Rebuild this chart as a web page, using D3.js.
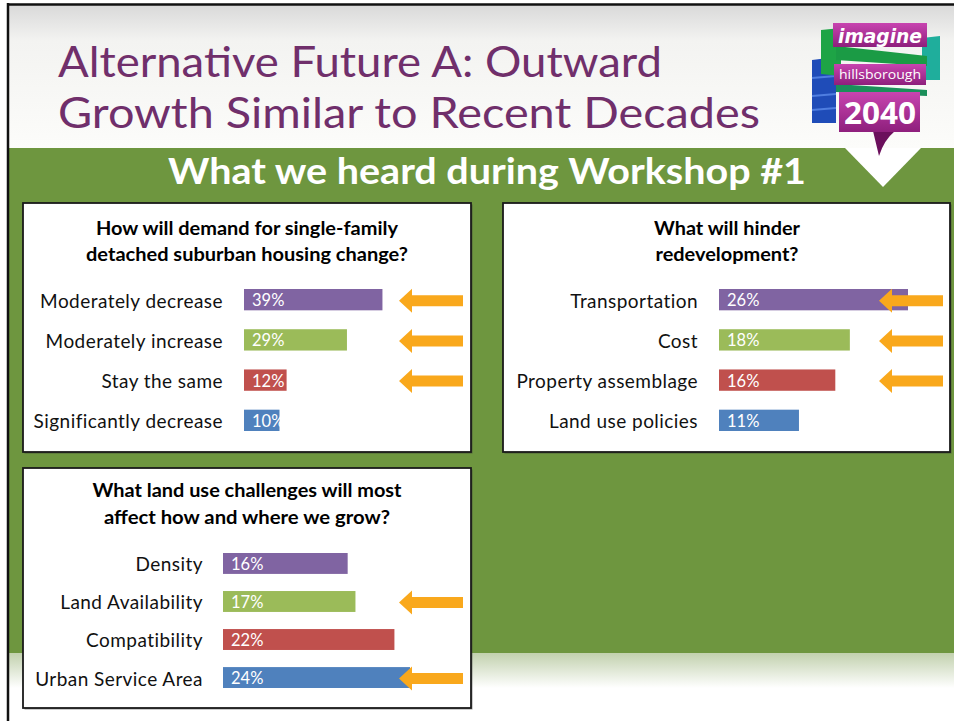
<!DOCTYPE html>
<html><head><meta charset="utf-8">
<script src="https://cdn.jsdelivr.net/npm/d3@7"></script>
<style>html,body{margin:0;padding:0;background:#fff;}svg{display:block;}</style>
</head><body>
<script>
// ---- DATA ----
const titleLines = ["Alternative Future A: Outward", "Growth Similar to Recent Decades"];
const headerText = "What we heard during Workshop #1";

const q1Title = ["How will demand for single-family", "detached suburban housing change?"];
const q1Categories = ["Moderately decrease", "Moderately increase", "Stay the same", "Significantly decrease"];
const q1Values = [39, 29, 12, 10];
const q1Arrows = [true, true, true, false];

const q2Title = ["What will hinder", "redevelopment?"];
const q2Categories = ["Transportation", "Cost", "Property assemblage", "Land use policies"];
const q2Values = [26, 18, 16, 11];
const q2Arrows = [true, true, true, false];

const q3Title = ["What land use challenges will most", "affect how and where we grow?"];
const q3Categories = ["Density", "Land Availability", "Compatibility", "Urban Service Area"];
const q3Values = [16, 17, 22, 24];
const q3Arrows = [false, true, false, true];

const barColors = ["#8064a2", "#9bbb59", "#c0504d", "#4f81bd"];

// ---- DRAW ----
const W = 954, H = 721;
const svg = d3.select("body").append("svg").attr("width", W).attr("height", H);
const defs = svg.append("defs");

const gTop = defs.append("linearGradient").attr("id","gTop").attr("x1",0).attr("y1",0).attr("x2",0).attr("y2",1);
gTop.append("stop").attr("offset",0).attr("stop-color","#d9d9d9");
gTop.append("stop").attr("offset",0.25).attr("stop-color","#f3f3f1");
gTop.append("stop").attr("offset",1).attr("stop-color","#fcfcfa");

const gBot = defs.append("linearGradient").attr("id","gBot").attr("x1",0).attr("y1",0).attr("x2",0).attr("y2",1);
gBot.append("stop").attr("offset",0).attr("stop-color","#c2d1ae");
gBot.append("stop").attr("offset",1).attr("stop-color","#ffffff");

const gMag = defs.append("linearGradient").attr("id","gMag").attr("x1",0).attr("y1",0).attr("x2",0).attr("y2",1);
gMag.append("stop").attr("offset",0).attr("stop-color","#c844b0");
gMag.append("stop").attr("offset",1).attr("stop-color","#8e1f7c");

// slide background
svg.append("rect").attr("x",0).attr("y",0).attr("width",W).attr("height",H).attr("fill","#fff");
svg.append("rect").attr("x",9).attr("y",5).attr("width",W-9).attr("height",143).attr("fill","url(#gTop)");
svg.append("rect").attr("x",9).attr("y",148).attr("width",W-9).attr("height",505).attr("fill","#6e963f");
svg.append("rect").attr("x",9).attr("y",653).attr("width",W-9).attr("height",35).attr("fill","url(#gBot)");
// slide border
svg.append("line").attr("x1",7).attr("x2",W).attr("y1",4.5).attr("y2",4.5).attr("stroke","#111").attr("stroke-width",2.5);
svg.append("line").attr("x1",8).attr("x2",8).attr("y1",3).attr("y2",H).attr("stroke","#111").attr("stroke-width",2.5);

// title
const titleW = [604, 702];
titleLines.forEach((t,i)=>{
  svg.append("text").attr("x",58).attr("y",[77,128][i])
    .attr("font-family","Lato, 'Open Sans', sans-serif").attr("font-size",43)
    .attr("fill","#702f6b").attr("textLength",titleW[i]).attr("lengthAdjust","spacingAndGlyphs").text(t);
});

// header
svg.append("text").attr("x",168).attr("y",184)
  .attr("font-family","Lato, 'Open Sans', sans-serif").attr("font-weight","bold").attr("font-size",36)
  .attr("fill","#fff").attr("textLength",638).attr("lengthAdjust","spacingAndGlyphs").text(headerText);

// white triangle
svg.append("path").attr("d","M845,148 L921,148 L883,187 Z").attr("fill","#fff");

// logo
const logo = svg.append("g");
logo.append("path").attr("d","M812,60 L836,57 L836,123 L812,123 Z").attr("fill","#1f4cb8");
logo.append("path").attr("d","M812,78 L836,76 M812,96 L836,94 M812,110 L836,108").attr("stroke","#4f7ee0").attr("stroke-width",2);
logo.append("path").attr("d","M821,30 L841,28 L841,76 L821,74 Z").attr("fill","#1ea446");
logo.append("path").attr("d","M922,38 L940,36 L940,80 L922,80 Z").attr("fill","#1fae9c");
logo.append("path").attr("d","M836,46 L927,56 L927,66 L836,60 Z").attr("fill","#1b9b45");
logo.append("path").attr("d","M836,84 L927,90 L927,96 L836,92 Z").attr("fill","#1b8f5a");
logo.append("path").attr("d","M873,131 L895,131 Q884,140 879,156 Z").attr("fill","#6b0f5c");
logo.append("rect").attr("x",833).attr("y",23).attr("width",94).attr("height",24).attr("fill","url(#gMag)");
logo.append("rect").attr("x",834).attr("y",64).attr("width",92).attr("height",21).attr("fill","url(#gMag)");
logo.append("rect").attr("x",839).attr("y",92).attr("width",81).attr("height",40).attr("fill","url(#gMag)");
logo.append("text").attr("x",880).attr("y",43).attr("text-anchor","middle").attr("fill","#fff")
  .attr("font-family","'DejaVu Sans', sans-serif").attr("font-weight","bold").attr("font-style","italic").attr("font-size",19)
  .attr("textLength",84).attr("lengthAdjust","spacingAndGlyphs").text("imagine");
logo.append("text").attr("x",880).attr("y",79).attr("text-anchor","middle").attr("fill","#fff")
  .attr("font-family","'Open Sans', sans-serif").attr("font-size",13)
  .attr("textLength",82).attr("lengthAdjust","spacingAndGlyphs").text("hillsborough");
logo.append("text").attr("x",880).attr("y",124).attr("text-anchor","middle").attr("fill","#fff")
  .attr("font-family","'Open Sans', sans-serif").attr("font-weight","bold").attr("font-size",30)
  .attr("textLength",72).attr("lengthAdjust","spacingAndGlyphs").text("2040");

// arrow path
function arrowPath(tipX, cy){
  const hh = 12, sh = 5.5, head = 13, len = 64;
  return `M${tipX},${cy} L${tipX+head},${cy-hh} L${tipX+head},${cy-sh} L${tipX+len},${cy-sh} L${tipX+len},${cy+sh} L${tipX+head},${cy+sh} L${tipX+head},${cy+hh} Z`;
}

function panel(cfg){
  const g = svg.append("g");
  g.append("rect").attr("x",cfg.box[0]+1.5).attr("y",cfg.box[1]+1.5).attr("width",cfg.box[2]).attr("height",cfg.box[3]).attr("fill","#333").attr("opacity",0.5);
  g.append("rect").attr("x",cfg.box[0]).attr("y",cfg.box[1]).attr("width",cfg.box[2]).attr("height",cfg.box[3])
    .attr("fill","#fff").attr("stroke","#1a1a1a").attr("stroke-width",1.8);
  cfg.title.forEach((t,i)=>{
    g.append("text").attr("x",cfg.titleX).attr("y",cfg.titleY[i]).attr("text-anchor","middle")
      .attr("font-family","Lato, 'Open Sans', sans-serif").attr("font-weight","bold").attr("font-size",18)
      .attr("fill","#000").attr("textLength",cfg.titleW[i]).attr("lengthAdjust","spacingAndGlyphs").text(t);
  });
  const y = d3.scaleBand().domain(cfg.cats).range(cfg.yRange).paddingInner(cfg.pad).paddingOuter(0);
  const x = d3.scaleLinear().domain(cfg.domain).range([cfg.x0, cfg.x1]);
  const axis = d3.axisLeft(y).tickSize(0).tickPadding(cfg.x0 - cfg.labelX);
  const ax = g.append("g").attr("transform",`translate(${cfg.x0},0)`).call(axis);
  ax.select(".domain").remove();
  ax.selectAll("text").attr("font-family","Lato, 'Open Sans', sans-serif").attr("font-size",19)
    .attr("letter-spacing","0.45px").attr("fill","#111").attr("dy","0.42em");
  g.selectAll("rect.bar").data(cfg.vals).join("rect").attr("class","bar")
    .attr("x",x(0)).attr("y",(d,i)=>y(cfg.cats[i])).attr("width",d=>x(d)-x(0)).attr("height",y.bandwidth())
    .attr("fill",(d,i)=>barColors[i]);
  g.selectAll("text.val").data(cfg.vals).join("text").attr("class","val")
    .attr("x",x(0)+8).attr("y",(d,i)=>y(cfg.cats[i])+y.bandwidth()/2).attr("dy","0.4em")
    .attr("font-family","Lato, 'Open Sans', sans-serif").attr("font-size",16.5).attr("fill","#fff").text(d=>d+"%");
  g.selectAll("path.arrow").data(cfg.arrows.map((a,i)=>({a,i})).filter(d=>d.a)).join("path").attr("class","arrow")
    .attr("d",d=>arrowPath(cfg.arrowX, y(cfg.cats[d.i])+y.bandwidth()/2+1)).attr("fill","#f9a81c");
}

panel({box:[23,203,448,249], title:q1Title, titleX:247, titleY:[235,261], titleW:[302,322],
  cats:q1Categories, vals:q1Values, arrows:q1Arrows, yRange:[289,431], pad:0.47,
  domain:[0,40], x0:244, x1:386, labelX:223, arrowX:399});
panel({box:[503,203,447,249], title:q2Title, titleX:727, titleY:[235,261], titleW:[146,143],
  cats:q2Categories, vals:q2Values, arrows:q2Arrows, yRange:[289,431], pad:0.47,
  domain:[0,26], x0:719, x1:908, labelX:698, arrowX:879});
panel({box:[23,468,448,240], title:q3Title, titleX:247, titleY:[497,524], titleW:[309,286],
  cats:q3Categories, vals:q3Values, arrows:q3Arrows, yRange:[553,688], pad:0.45,
  domain:[0,24], x0:223, x1:410, labelX:203, arrowX:399});
</script>
</body></html>
